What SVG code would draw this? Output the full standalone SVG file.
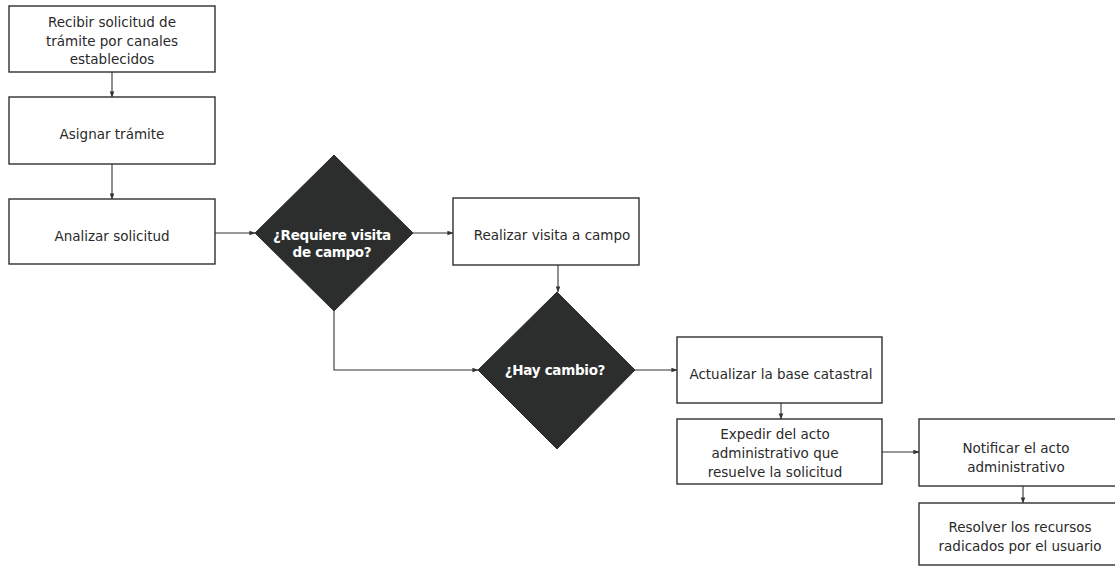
<svg xmlns="http://www.w3.org/2000/svg" width="1115" height="567" viewBox="0 0 1115 567">
<defs>
<style>
.box{fill:#fff;stroke:#2f2f2f;stroke-width:1.4}
.dia{fill:#2b2e2c;stroke:#2b2e2c;stroke-width:1}
.t{font-family:"DejaVu Sans","Liberation Sans",sans-serif;font-size:13.5px;fill:#2a2a2a;text-anchor:middle}
.tw{font-family:"DejaVu Sans","Liberation Sans",sans-serif;font-size:13.5px;font-weight:bold;fill:#fff;text-anchor:middle;letter-spacing:-0.3px}
.c{fill:none;stroke:#333;stroke-width:1.1}
</style>
<marker id="ah" viewBox="0 0 8 8" refX="7.5" refY="4" markerWidth="6" markerHeight="6" orient="auto" markerUnits="userSpaceOnUse">
<path d="M0,1 L8,4 L0,7 Z" fill="#333"/>
</marker>
</defs>
<rect width="1115" height="567" fill="#fff"/>
<g id="connectors">
<path class="c" d="M112,72 V97" marker-end="url(#ah)"/>
<path class="c" d="M112,164 V199" marker-end="url(#ah)"/>
<path class="c" d="M215,233 H255" marker-end="url(#ah)"/>
<path class="c" d="M413,233 H453" marker-end="url(#ah)"/>
<path class="c" d="M558,265 V292" marker-end="url(#ah)"/>
<path class="c" d="M334,311 V370 H478" marker-end="url(#ah)"/>
<path class="c" d="M635,370 H677" marker-end="url(#ah)"/>
<path class="c" d="M781,403 V419" marker-end="url(#ah)"/>
<path class="c" d="M882,452 H919" marker-end="url(#ah)"/>
<path class="c" d="M1023,486 V503" marker-end="url(#ah)"/>
</g>
<g id="recibir">
<rect class="box" x="9" y="6" width="206" height="66"/>
<text class="t" x="112" y="27">Recibir solicitud de</text>
<text class="t" x="112" y="46">trámite por canales</text>
<text class="t" x="112" y="64">establecidos</text>
</g>
<g id="asignar">
<rect class="box" x="9" y="97" width="206" height="67"/>
<text class="t" x="112" y="139">Asignar trámite</text>
</g>
<g id="analizar">
<rect class="box" x="9" y="199" width="206" height="65"/>
<text class="t" x="112" y="241">Analizar solicitud</text>
</g>
<g id="requiere">
<polygon class="dia" points="334,155 413,233 334,311 255,233"/>
<text class="tw" x="332" y="240">¿Requiere visita</text>
<text class="tw" x="332" y="257">de campo?</text>
</g>
<g id="realizar">
<rect class="box" x="453" y="198" width="186" height="67"/>
<text class="t" x="552" y="240">Realizar visita a campo</text>
</g>
<g id="hay-cambio">
<polygon class="dia" points="557,292 635,370 557,449 478,370"/>
<text class="tw" x="555" y="375">¿Hay cambio?</text>
</g>
<g id="actualizar">
<rect class="box" x="677" y="337" width="205" height="66"/>
<text class="t" x="781" y="379">Actualizar la base catastral</text>
</g>
<g id="expedir">
<rect class="box" x="677" y="419" width="205" height="65"/>
<text class="t" x="775" y="439">Expedir del acto</text>
<text class="t" x="775" y="458">administrativo que</text>
<text class="t" x="775" y="477">resuelve la solicitud</text>
</g>
<g id="notificar">
<rect class="box" x="919" y="419" width="206" height="67"/>
<text class="t" x="1016" y="453">Notificar el acto</text>
<text class="t" x="1016" y="472">administrativo</text>
</g>
<g id="resolver">
<rect class="box" x="919" y="503" width="206" height="62"/>
<text class="t" x="1020" y="532">Resolver los recursos</text>
<text class="t" x="1020" y="551">radicados por el usuario</text>
</g>
</svg>
